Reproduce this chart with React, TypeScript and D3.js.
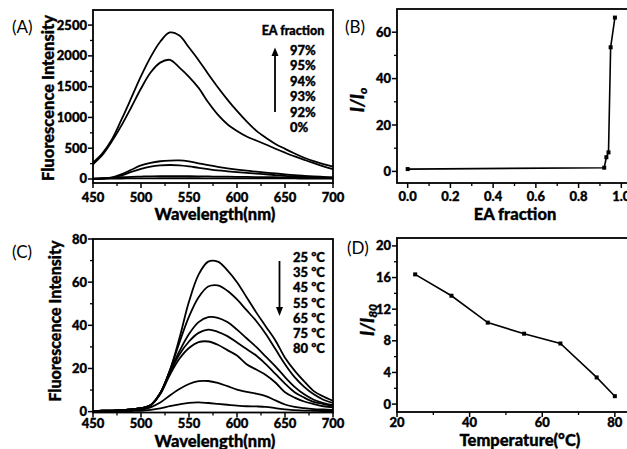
import React, { useEffect } from "react";
import * as d3 from "d3";

// ---------- data ----------
const wavelengths = [450, 460, 470, 480, 490, 500, 510, 520, 530, 540, 550, 560, 570, 580, 590, 600, 610, 620, 630, 640, 650, 660, 670, 680, 690, 700];

const ea97 = [265, 420, 650, 975, 1320, 1670, 1980, 2230, 2380, 2330, 2135, 1930, 1705, 1490, 1290, 1105, 935, 785, 670, 570, 490, 415, 345, 290, 242, 200];
const ea95 = [240, 395, 620, 880, 1170, 1470, 1730, 1890, 1935, 1810, 1660, 1480, 1245, 1045, 890, 780, 690, 625, 560, 492, 428, 367, 312, 258, 206, 162];
const ea94 = [0, 8, 25, 80, 150, 220, 262, 288, 300, 302, 285, 255, 225, 198, 174, 153, 135, 120, 105, 90, 75, 62, 52, 43, 35, 27];
const ea93 = [0, 6, 20, 58, 115, 165, 200, 220, 227, 222, 205, 182, 160, 140, 125, 112, 100, 88, 77, 63, 50, 42, 34, 27, 21, 16];
const ea92 = [5, 12, 20, 30, 36, 40, 44, 47, 48, 47, 45, 43, 41, 39, 37, 35, 33, 31, 29, 28, 27, 25, 24, 23, 22, 21];
const ea0 = [5, 6, 7, 8, 9, 10, 11, 12, 12, 12, 12, 12, 11, 11, 11, 10, 10, 10, 9, 9, 9, 9, 8, 8, 8, 8];

const t25 = [0.3, 0.4, 0.5, 0.7, 1.0, 1.6, 3.0, 8.5, 19, 34, 51, 63.5, 69.5, 69.5, 65.5, 60, 53, 46, 39.5, 33, 25, 19, 14, 9.5, 7, 5];
const t35 = [0.3, 0.4, 0.5, 0.7, 1.0, 1.6, 3.0, 8.5, 19, 32, 44, 53, 58, 58.5, 56, 52, 47, 42, 36, 29, 22, 16, 11.5, 8, 5.5, 4];
const t45 = [0.3, 0.4, 0.5, 0.7, 1.0, 1.6, 3.0, 8.5, 18.5, 28, 36, 41.5, 43.8, 43.5, 41.5, 38, 34, 30, 25.5, 21, 16, 11.5, 8, 5.5, 4, 3];
const t55 = [0.3, 0.4, 0.5, 0.7, 1.0, 1.6, 3.0, 8.5, 18, 26.5, 32.5, 36.5, 38, 37, 35, 32, 29, 26, 22, 17.5, 13, 9, 6.5, 4.5, 3.5, 2.5];
const t65 = [0.3, 0.4, 0.5, 0.7, 1.0, 1.6, 2.9, 8, 17, 24.5, 29.5, 32.2, 32.5, 31, 28.5, 26, 22, 19.5, 17, 13.5, 9, 6.5, 4.7, 3.5, 2.5, 2];
const t75 = [0.1, 0.2, 0.3, 0.4, 0.6, 0.9, 2.0, 4.2, 7.5, 10.5, 12.8, 14.1, 14.2, 13.3, 11.8, 10.2, 9.2, 8.3, 7.2, 5.2, 3.3, 2.2, 1.6, 1.2, 1.0, 0.8];
const t80 = [0, 0.1, 0.1, 0.2, 0.3, 0.4, 0.8, 1.5, 2.5, 3.4, 4.1, 4.3, 4.0, 3.6, 3.2, 2.8, 2.5, 2.4, 2.2, 1.6, 1.0, 0.7, 0.5, 0.4, 0.3, 0.3];

const eaLegend = ["97%", "95%", "94%", "93%", "92%", "0%"];
const tempLegend = ["25 ºC", "35 ºC", "45 ºC", "55 ºC", "65 ºC", "75 ºC", "80 ºC"];

const eaFraction = [0, 0.92, 0.93, 0.94, 0.95, 0.97];
const ratioI0 = [1.0, 1.6, 6.1, 8.2, 53.5, 66.3];

const temperature = [25, 35, 45, 55, 65, 75, 80];
const ratioI80 = [16.4, 13.7, 10.3, 8.9, 7.66, 3.37, 1.0];

const wlMajor = [450, 500, 550, 600, 650, 700];
const wlMinor = [475, 525, 575, 625, 675];
const aYMajor = [0, 500, 1000, 1500, 2000, 2500];
const aYMinor = [250, 750, 1250, 1750, 2250];
const bXMajor = [0, 0.2, 0.4, 0.6, 0.8, 1.0];
const bXMinor = [0.1, 0.3, 0.5, 0.7, 0.9];
const bYMajor = [0, 20, 40, 60];
const bYMinor = [10, 30, 50];
const cYMajor = [0, 20, 40, 60, 80];
const cYMinor = [10, 30, 50, 70];
const dXMajor = [20, 40, 60, 80];
const dXMinor = [30, 50, 70];
const dYMajor = [0, 4, 8, 12, 16, 20];
const dYMinor = [2, 6, 10, 14, 18];

// ---------- helpers ----------
const FONT = "Lato, 'Open Sans', sans-serif";
const heavy = { fontFamily: FONT, fontWeight: 900 as const, stroke: "#000", strokeWidth: 0.35 };

type Lin = d3.ScaleLinear<number, number>;

function Axes({ x, y, xMajor, xMinor, yMajor, yMinor, xFmt, xLabelY }: {
  x: Lin; y: Lin; xMajor: number[]; xMinor: number[]; yMajor: number[]; yMinor: number[];
  xFmt: (v: number) => string; xLabelY: number;
}) {
  const [x0, x1] = x.range();
  const [y0, y1] = y.range(); // y0 bottom, y1 top
  return (
    <g>
      <rect x={x0} y={y1} width={x1 - x0} height={y0 - y1} fill="none" stroke="#000" strokeWidth={1.8} />
      {xMajor.map((v) => (
        <g key={"xM" + v}>
          <line x1={x(v)} x2={x(v)} y1={y0} y2={y0 + 5} stroke="#000" strokeWidth={1.5} />
          <text x={x(v)} y={xLabelY} textAnchor="middle" fontSize={13} {...heavy}>{xFmt(v)}</text>
        </g>
      ))}
      {xMinor.map((v) => (
        <line key={"xm" + v} x1={x(v)} x2={x(v)} y1={y0} y2={y0 + 3} stroke="#000" strokeWidth={1.3} />
      ))}
      {yMajor.map((v) => (
        <g key={"yM" + v}>
          <line x1={x0 - 5} x2={x0} y1={y(v)} y2={y(v)} stroke="#000" strokeWidth={1.5} />
          <text x={x0 - 6} y={y(v) + 4.5} textAnchor="end" fontSize={13} {...heavy}>{v}</text>
        </g>
      ))}
      {yMinor.map((v) => (
        <line key={"ym" + v} x1={x0 - 3} x2={x0} y1={y(v)} y2={y(v)} stroke="#000" strokeWidth={1.3} />
      ))}
    </g>
  );
}

export default function App() {
  useEffect(() => {
    document.body.style.margin = "0";
  }, []);

  // Panel A
  const ax = d3.scaleLinear().domain([450, 700]).range([93, 333]);
  const ay = d3.scaleLinear().domain([-65, 2745]).range([183, 10]);
  // Panel B
  const bx = d3.scaleLinear().domain([-0.05, 1.05]).range([397, 632]);
  const by = d3.scaleLinear().domain([-5, 70]).range([183, 9]);
  // Panel C
  const cx = d3.scaleLinear().domain([450, 700]).range([93, 333]);
  const cy = d3.scaleLinear().domain([-0.4, 80]).range([412.5, 239]);
  // Panel D
  const dx = d3.scaleLinear().domain([20, 85]).range([397, 633]);
  const dy = d3.scaleLinear().domain([-1, 21]).range([412, 238]);

  const lineA = d3.line<number>().x((_, i) => ax(wavelengths[i])).y((v) => ay(v)).curve(d3.curveCatmullRom.alpha(0.5));
  const lineC = d3.line<number>().x((_, i) => cx(wavelengths[i])).y((v) => cy(v)).curve(d3.curveCatmullRom.alpha(0.5));
  const lineB = d3.line<number>().x((_, i) => bx(eaFraction[i])).y((v) => by(v));
  const lineD = d3.line<number>().x((_, i) => dx(temperature[i])).y((v) => dy(v));

  const aSeries = [ea97, ea95, ea94, ea93, ea92, ea0];
  const cSeries = [t25, t35, t45, t55, t65, t75, t80];

  return (
    <svg width={627} height={449} style={{ position: "absolute", left: 0, top: 0, background: "#fff" }}>
      <rect width={627} height={449} fill="#fff" />

      {/* ---------- Panel A ---------- */}
      <Axes x={ax} y={ay} xMajor={wlMajor} xMinor={wlMinor} yMajor={aYMajor} yMinor={aYMinor} xFmt={(v) => String(v)} xLabelY={202} />
      {aSeries.map((s, i) => (
        <path key={"a" + i} d={lineA(s) || ""} fill="none" stroke="#000" strokeWidth={1.8} />
      ))}
      <text x={12} y={33} fontSize={17} fontFamily={FONT}>(A)</text>
      <text transform="translate(54,98) rotate(-90)" textAnchor="middle" fontSize={16.5} {...heavy}>Fluorescence Intensity</text>
      <text x={215} y={220} textAnchor="middle" fontSize={16.5} {...heavy}>Wavelength(nm)</text>
      <text x={293} y={35} textAnchor="middle" fontSize={12.5} {...heavy}>EA fraction</text>
      {eaLegend.map((t, i) => (
        <text key={t} x={290} y={55 + i * 15.45} fontSize={13} {...heavy}>{t}</text>
      ))}
      <line x1={275} x2={275} y1={112} y2={54} stroke="#000" strokeWidth={1.8} />
      <path d="M271.5,56 L275,47.5 L278.5,56 Z" fill="#000" />

      {/* ---------- Panel B ---------- */}
      <Axes x={bx} y={by} xMajor={bXMajor} xMinor={bXMinor} yMajor={bYMajor} yMinor={bYMinor} xFmt={(v) => v.toFixed(1)} xLabelY={201} />
      <path d={lineB(ratioI0) || ""} fill="none" stroke="#000" strokeWidth={1.6} />
      {ratioI0.map((v, i) => (
        <rect key={"b" + i} x={bx(eaFraction[i]) - 2} y={by(v) - 2} width={4} height={4} fill="#000" />
      ))}
      <text x={345} y={33} fontSize={17} fontFamily={FONT}>(B)</text>
      <text transform="translate(364,100) rotate(-90)" textAnchor="middle" fontSize={18} fontStyle="italic" {...heavy}>
        I/I<tspan dy={3} fontSize={12}>o</tspan>
      </text>
      <text x={515} y={220} textAnchor="middle" fontSize={16.5} {...heavy}>EA fraction</text>

      {/* ---------- Panel C ---------- */}
      <Axes x={cx} y={cy} xMajor={wlMajor} xMinor={wlMinor} yMajor={cYMajor} yMinor={cYMinor} xFmt={(v) => String(v)} xLabelY={428} />
      {cSeries.map((s, i) => (
        <path key={"c" + i} d={lineC(s) || ""} fill="none" stroke="#000" strokeWidth={1.8} />
      ))}
      <text x={12} y={258} fontSize={17} fontFamily={FONT}>(C)</text>
      <text transform="translate(61,321) rotate(-90)" textAnchor="middle" fontSize={16} {...heavy}>Fluorescence Intensity</text>
      <text x={215} y={447} textAnchor="middle" fontSize={16.5} {...heavy}>Wavelength(nm)</text>
      {tempLegend.map((t, i) => (
        <text key={t} x={293} y={262 + i * 15.2} fontSize={13} {...heavy}>{t}</text>
      ))}
      <line x1={279.5} x2={279.5} y1={261} y2={309} stroke="#000" strokeWidth={1.8} />
      <path d="M276,307 L279.5,316 L283,307 Z" fill="#000" />

      {/* ---------- Panel D ---------- */}
      <Axes x={dx} y={dy} xMajor={dXMajor} xMinor={dXMinor} yMajor={dYMajor} yMinor={dYMinor} xFmt={(v) => String(v)} xLabelY={427} />
      <path d={lineD(ratioI80) || ""} fill="none" stroke="#000" strokeWidth={1.6} />
      {ratioI80.map((v, i) => (
        <rect key={"d" + i} x={dx(temperature[i]) - 2} y={dy(v) - 2} width={4} height={4} fill="#000" />
      ))}
      <text x={347} y={254} fontSize={17} fontFamily={FONT}>(D)</text>
      <text transform="translate(374,320) rotate(-90)" textAnchor="middle" fontSize={18} fontStyle="italic" {...heavy}>
        I/I<tspan dy={3} fontSize={12}>80</tspan>
      </text>
      <text x={520} y={446} textAnchor="middle" fontSize={16.5} {...heavy}>Temperature(°C)</text>
    </svg>
  );
}
